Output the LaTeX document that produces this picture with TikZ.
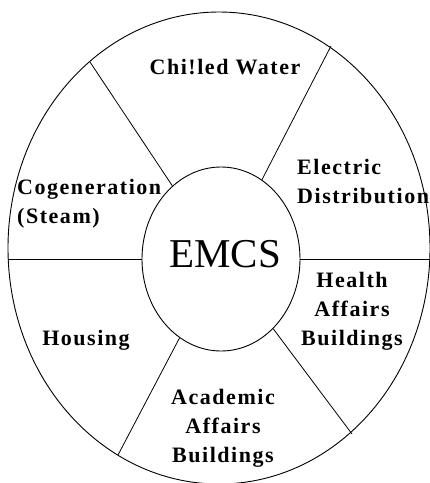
\documentclass[tikz,border=0pt]{standalone}
\usepackage{fontspec}
\setmainfont{Liberation Serif}
\newfontfamily\lblfont{Liberation Serif}[LetterSpace=7]
\usetikzlibrary{shapes.geometric}
\begin{document}
\begin{tikzpicture}[x=1pt,y=-1pt,
  ring/.style={draw,line width=0.9pt,ellipse,inner sep=0pt},
  divider/.style={line width=0.8pt},
  label/.style={font=\lblfont\bfseries\fontsize{22}{29}\selectfont,inner sep=0pt,anchor=base},
  hub/.style={font=\fontsize{41}{41}\selectfont,inner sep=0pt,anchor=base}]
\useasboundingbox (0,0) rectangle (430,483);
% wheel outline and hub
\node[ring,minimum width=422pt,minimum height=472pt] (outer) at (219,248) {};
\node[ring,minimum width=158pt,minimum height=184pt] (inner) at (221,259) {};
% rim points of the spokes
\coordinate (o1) at (90,62);
\coordinate (o2) at (331,46);
\coordinate (o3) at (118,455);
\coordinate (o4) at (352,434);
\coordinate (oL) at (8,259);
\coordinate (oR) at (430,259);
% spokes
\draw[divider] (o1) -- (inner);
\draw[divider] (o2) -- (inner);
\draw[divider] (o3) -- (inner);
\draw[divider] (o4) -- (inner);
\draw[divider] (oL) -- (inner);
\draw[divider] (oR) -- (inner);
% sector labels (multi-line labels sit on the baseline of their last line)
\node[hub] (emcs) at (225,267) {EMCS};
\node[label] (chw) at (225,74) {Chi!led Water};
\node[label,anchor=base west,align=left] (elec) at (297,203) {Electric\\Distribution};
\node[label,anchor=base west,align=left] (cogen) at (17,223) {Cogeneration\\(Steam)};
\node[label,align=center] (health) at (352,345) {Health\\Affairs\\Buildings};
\node[label] (housing) at (86,345) {Housing};
\node[label,align=center] (acad) at (223,462) {Academic\\Affairs\\Buildings};
\end{tikzpicture}
\end{document}
